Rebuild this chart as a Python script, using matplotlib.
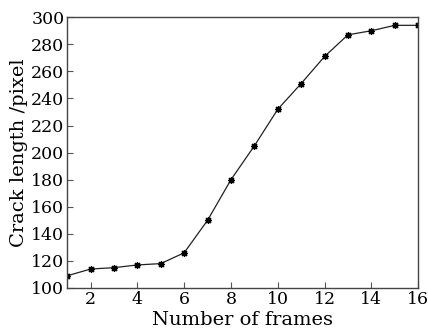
import matplotlib
matplotlib.use('Agg')
import matplotlib.pyplot as plt

frames = [1, 2, 3, 4, 5, 6, 7, 8, 9, 10, 11, 12, 13, 14, 15, 16]
crack_len = [109, 114, 115, 117, 118, 126, 150, 180, 205, 232, 251, 271, 287, 290, 294, 294]

plt.rcParams['font.family'] = ['DejaVu Serif']

fig, ax = plt.subplots(figsize=(4.28, 3.31), dpi=100)
fig.subplots_adjust(left=0.157, right=0.977, top=0.948, bottom=0.13)

ax.plot(frames, crack_len, color='#222222', lw=0.9,
        marker=(8, 2, 0), markersize=5, markeredgewidth=0.9, markeredgecolor='black')

ax.set_xlim(1, 16)
ax.set_ylim(100, 300)
ax.set_xticks([2, 4, 6, 8, 10, 12, 14, 16])
ax.set_yticks(range(100, 301, 20))
ax.tick_params(direction='in', length=4, width=0.8, labelsize=12.5, pad=2,
               top=False, right=False, color='#555555')
for s in ax.spines.values():
    s.set_linewidth(1.0)
    s.set_color('#444444')

ax.set_xlabel('Number of frames', fontsize=14, labelpad=2)
ax.set_ylabel('Crack length /pixel', fontsize=14, labelpad=2)

fig.savefig('out.png', dpi=100)
